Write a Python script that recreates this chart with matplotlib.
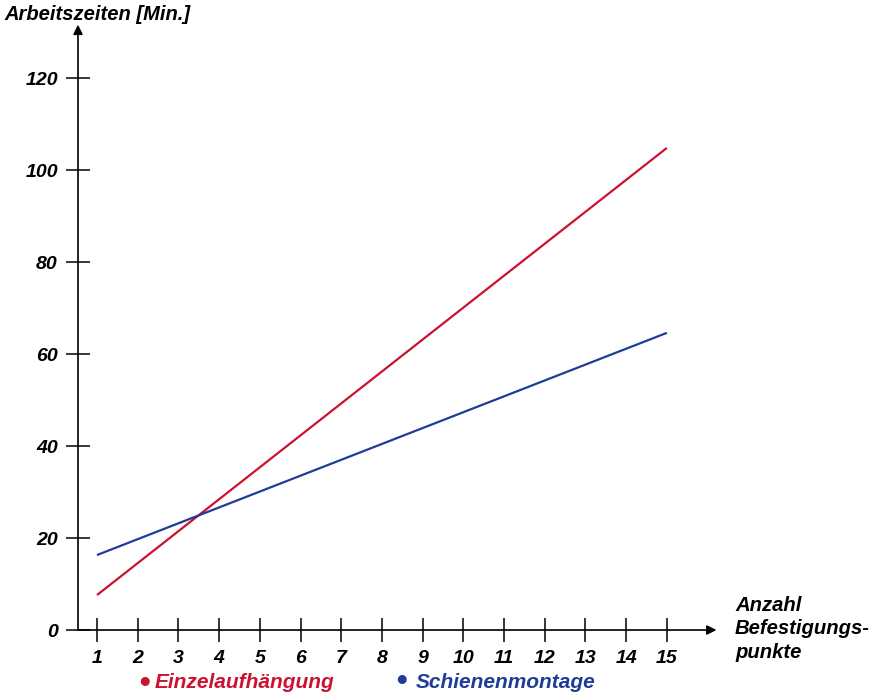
import matplotlib.pyplot as plt

# Daten
x = [1, 15]
einzel = [7.6, 104.8]
schiene = [16.3, 64.6]
xticks = list(range(1, 16))
yticks = [0, 20, 40, 60, 80, 100, 120]

rot = '#cc1230'
blau = '#1f3c98'

plt.rcParams['font.family'] = ['Liberation Sans', 'DejaVu Sans']
schrift = dict(fontweight='bold', fontstyle='italic')

fig = plt.figure(figsize=(8.72, 6.94), dpi=100)
ax = fig.add_axes([0, 0, 1, 1])
ax.set_xlim(-1.383, 20.04)
ax.set_ylim(-13.91, 136.96)
x0 = 0.533

ax.plot(x, einzel, color=rot, lw=1.6, solid_capstyle='butt')
ax.plot(x, schiene, color=blau, lw=1.6, solid_capstyle='butt')

for s in ['top', 'right', 'left', 'bottom']:
    ax.spines[s].set_visible(False)
ax.spines['left'].set_position(('data', x0))
ax.spines['bottom'].set_position(('data', 0))

# Achsen mit Pfeilen
ax.annotate('', xy=(x0, 131.6), xytext=(x0, 0),
            arrowprops=dict(arrowstyle='-|>', lw=1.2, color='black', mutation_scale=14,
                            shrinkA=0, shrinkB=0))
ax.annotate('', xy=(16.22, 0), xytext=(x0, 0),
            arrowprops=dict(arrowstyle='-|>', lw=1.2, color='black', mutation_scale=14,
                            shrinkA=0, shrinkB=0))

ax.set_xticks(xticks)
ax.set_yticks(yticks)
ax.tick_params(direction='inout', length=17, width=1.1, color='black')
ax.tick_params(axis='x', pad=6)
ax.tick_params(axis='y', pad=6)
for lab in ax.get_xticklabels() + ax.get_yticklabels():
    lab.set_fontsize(14)
    lab.set_fontweight('bold')
    lab.set_fontstyle('italic')

fig.text(4 / 872, 1 - 14 / 694, 'Arbeitszeiten [Min.]', ha='left', va='center',
         fontsize=14.5, **schrift)
fig.text(735 / 872, 1 - 629 / 694, 'Anzahl\nBefestigungs-\npunkte', ha='left', va='center',
         linespacing=1.33, fontsize=14.6, **schrift)

# Legende
fig.text(145 / 872, 1 - 681 / 694, '\u25cf', color=rot, ha='center', va='center', fontsize=15)
fig.text(155 / 872, 1 - 682 / 694, 'Einzelaufhängung', color=rot, ha='left', va='center',
         fontsize=15, **schrift)
fig.text(402 / 872, 1 - 679 / 694, '\u25cf', color=blau, ha='center', va='center', fontsize=15)
fig.text(416 / 872, 1 - 682 / 694, 'Schienenmontage', color=blau, ha='left', va='center',
         fontsize=15, **schrift)

fig.savefig('out.png', dpi=100)
